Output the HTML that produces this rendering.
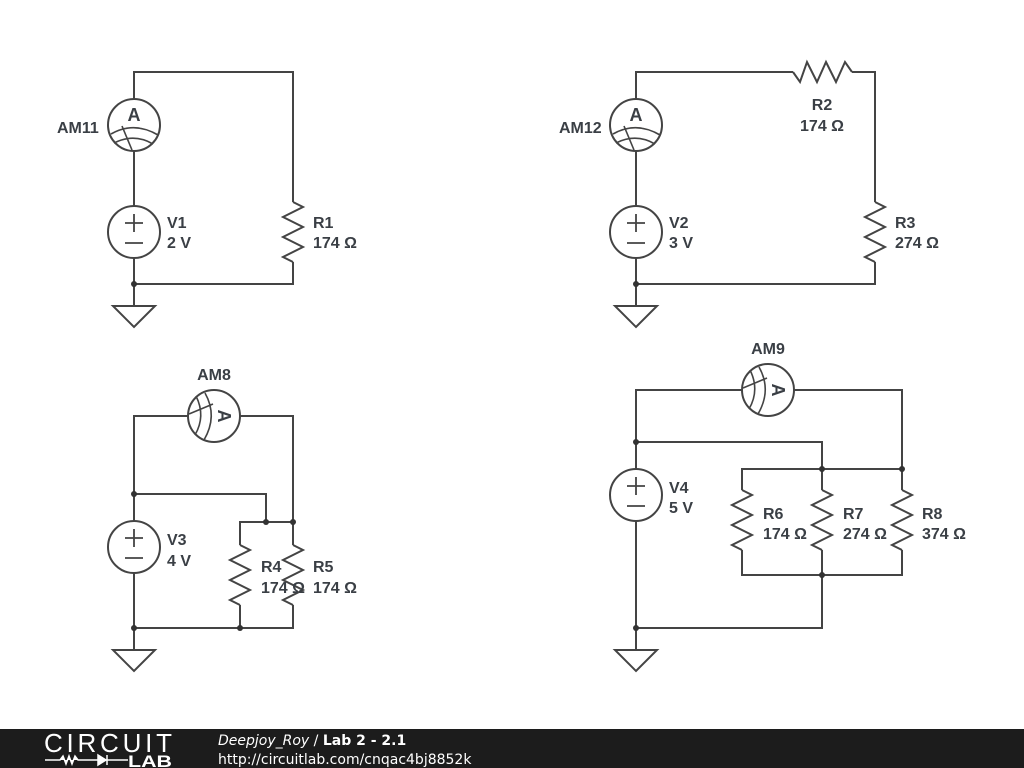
<!DOCTYPE html>
<html><head><meta charset="utf-8"><style>
html,body{margin:0;padding:0;background:#fff;width:1024px;height:768px;overflow:hidden}
</style></head><body>
<svg width="1024" height="768" viewBox="0 0 1024 768" xmlns="http://www.w3.org/2000/svg">
<defs>
<g id="am">
<circle cx="0" cy="0" r="26" fill="#fff" stroke="#444" stroke-width="2"/>
<text x="0" y="-4" text-anchor="middle" font-family="Liberation Sans, sans-serif" font-weight="bold" font-size="18" fill="#3a3f45">A</text>
<path d="M-23,9 Q0,-4 24,10 M-20,18 Q0,8 19,19 M-12,1 L-2,25" fill="none" stroke="#444" stroke-width="1.6"/>
</g>
<g id="vs">
<circle cx="0" cy="0" r="26" fill="#fff" stroke="#444" stroke-width="2"/>
<path d="M-9,-9 H9 M0,-18 V0 M-9,11 H9" stroke="#444" stroke-width="1.8"/>
</g>
<g id="gnd"><path d="M-21,0 H21 L0,21 Z" fill="#fff" stroke="#444" stroke-width="2"/></g>
<path id="rv" d="M0,0 L10,5 L-10,15 L10,25 L-10,35 L10,45 L-10,55 L0,60" fill="none" stroke="#444" stroke-width="2"/>
</defs>
<g fill="none" stroke="#444" stroke-width="2">
<path d="M134,99 V72 H293 V202 M293,262 V284 H134 M134,151 V206 M134,258 V306"/>
<path d="M636,99 V72 H793 M852,72 H875 V202 M875,262 V284 H636 M636,151 V206 M636,258 V306"/>
<path d="M793,72 L800,82 L807,62 L817,82 L826,62 L836,82 L845,62 L852,72"/>
<path d="M188,416 H134 V521 M240,416 H293 V522 M134,494 H266 V522 M240,545 V522 H293 V545 M240,605 V628 M293,605 V628 H134 M134,573 V650"/>
<path d="M742,390 H636 V469 M794,390 H902 V469 M636,442 H822 V469 M742,490 V469 H902 V490 M742,550 V575 H902 V550 M822,490 V469 M822,550 V628 H636 M636,521 V650"/>
</g>
<use href="#rv" x="293" y="202"/>
<use href="#rv" x="875" y="202"/>
<use href="#rv" x="240" y="545"/>
<use href="#rv" x="293" y="545"/>
<use href="#rv" x="742" y="490"/>
<use href="#rv" x="822" y="490"/>
<use href="#rv" x="902" y="490"/>
<use href="#am" x="134" y="125"/>
<use href="#am" x="636" y="125"/>
<g transform="translate(214,416) rotate(90)"><use href="#am"/></g>
<g transform="translate(768,390) rotate(90)"><use href="#am"/></g>
<use href="#vs" x="134" y="232"/>
<use href="#vs" x="636" y="232"/>
<use href="#vs" x="134" y="547"/>
<use href="#vs" x="636" y="495"/>
<use href="#gnd" x="134" y="306"/>
<use href="#gnd" x="636" y="306"/>
<use href="#gnd" x="134" y="650"/>
<use href="#gnd" x="636" y="650"/>
<g fill="#333">
<circle cx="134" cy="284" r="3"/><circle cx="636" cy="284" r="3"/>
<circle cx="134" cy="494" r="3"/><circle cx="266" cy="522" r="3"/><circle cx="293" cy="522" r="3"/>
<circle cx="134" cy="628" r="3"/><circle cx="240" cy="628" r="3"/>
<circle cx="636" cy="442" r="3"/><circle cx="822" cy="469" r="3"/><circle cx="902" cy="469" r="3"/>
<circle cx="822" cy="575" r="3"/><circle cx="636" cy="628" r="3"/>
</g>
<g font-family="Liberation Sans, sans-serif" font-weight="bold" font-size="16" fill="#3a3f45">
<text x="57" y="133">AM11</text>
<text x="167" y="228">V1</text><text x="167" y="248">2 V</text>
<text x="313" y="228">R1</text><text x="313" y="248">174 Ω</text>
<text x="559" y="133">AM12</text>
<text x="669" y="228">V2</text><text x="669" y="248">3 V</text>
<text x="822" y="110" text-anchor="middle">R2</text><text x="822" y="131" text-anchor="middle">174 Ω</text>
<text x="895" y="228">R3</text><text x="895" y="248">274 Ω</text>
<text x="214" y="380" text-anchor="middle">AM8</text>
<text x="167" y="545">V3</text><text x="167" y="566">4 V</text>
<text x="261" y="572">R4</text><text x="261" y="593">174 Ω</text>
<text x="313" y="572">R5</text><text x="313" y="593">174 Ω</text>
<text x="768" y="354" text-anchor="middle">AM9</text>
<text x="669" y="493">V4</text><text x="669" y="513">5 V</text>
<text x="763" y="519">R6</text><text x="763" y="539">174 Ω</text>
<text x="843" y="519">R7</text><text x="843" y="539">274 Ω</text>
<text x="922" y="519">R8</text><text x="922" y="539">374 Ω</text>
</g>
<rect x="0" y="729" width="1024" height="39" fill="#1c1c1c"/>
<text x="44" y="752" font-family="Liberation Sans, sans-serif" font-size="26" fill="#fff" textLength="128" lengthAdjust="spacing">CIRCUIT</text>
<path d="M45,760 H60 L63,756 L66,764 L69,756 L72,764 L75,756 L78,760 H98 M98,755 L106,760 L98,765 Z M107,755 V765 M107,760 H128" stroke="#fff" stroke-width="1.5" fill="#fff"/>
<text x="128" y="767" font-family="Liberation Sans, sans-serif" font-weight="bold" font-size="17" fill="#fff" textLength="44" lengthAdjust="spacingAndGlyphs">LAB</text>
<text x="218" y="745" font-family="DejaVu Sans, sans-serif" font-style="italic" font-size="14" fill="#fff">Deepjoy_Roy <tspan font-style="normal">/</tspan> <tspan font-style="normal" font-weight="bold">Lab 2 - 2.1</tspan></text>
<text x="218" y="764" font-family="DejaVu Sans, sans-serif" font-size="14" fill="#fff">http://circuitlab.com/cnqac4bj8852k</text>
</svg>
</body></html>
